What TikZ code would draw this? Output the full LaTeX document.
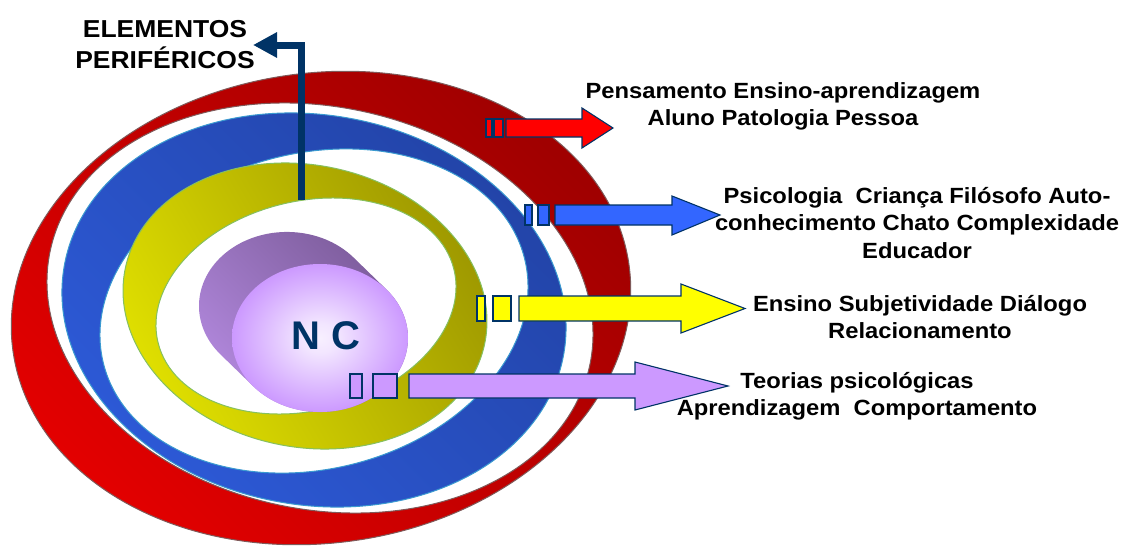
\documentclass[tikz,border=0pt]{standalone}
\usepackage{fontspec}
\setmainfont{Liberation Sans}[FakeStretch=1.08]
\newfontfamily\ncfont{Liberation Sans}
\usetikzlibrary{arrows.meta}
\definecolor{navy}{HTML}{003366}
\definecolor{ringredL}{HTML}{E40000}
\definecolor{ringredD}{HTML}{A00000}
\definecolor{ringredE}{HTML}{7F5A5A}
\definecolor{ringblueL}{HTML}{2D5AD8}
\definecolor{ringblueD}{HTML}{2243A6}
\definecolor{ringblueE}{HTML}{3A9AD0}
\definecolor{ringyelL}{HTML}{E2E200}
\definecolor{ringyelD}{HTML}{9C9600}
\definecolor{ringyelE}{HTML}{86C060}
\definecolor{cylL}{HTML}{B48AE0}
\definecolor{cylD}{HTML}{7A5A98}
\definecolor{ncedge}{HTML}{CC99FF}
\definecolor{arrred}{HTML}{FF0000}
\definecolor{arrblue}{HTML}{3366FF}
\definecolor{arryel}{HTML}{FFFF00}
\definecolor{arrpur}{HTML}{CC99FF}
\pgfdeclareradialshading{ncglow}{\pgfpoint{0bp}{0bp}}{color(0bp)=(white!85!ncedge); color(5bp)=(white!75!ncedge); color(17bp)=(white!30!ncedge); color(25bp)=(ncedge); color(50bp)=(ncedge)}
\tikzset{
  blk/.style={draw=navy, line width=1.1pt, line join=miter},
  lbl/.style={anchor=base, inner sep=0pt, font=\bfseries\fontsize{22}{27.5}\selectfont},
  navyarr/.style={draw=navy, line width=7pt, line join=miter, -{Triangle[length=24pt,width=24pt]}},
}
\begin{document}
\begin{tikzpicture}[x=1pt,y=-1pt]
\useasboundingbox (0,0) rectangle (1128,546);
% red ring
\shade[even odd rule, left color=ringredL, right color=ringredD, shading angle=135]
  (321,308) ellipse [x radius=311, y radius=235, rotate=8]
  (320,308) ellipse [x radius=275.8, y radius=201.2, rotate=-12];
\draw[ringredE, line width=1pt]
  (321,308) ellipse [x radius=311, y radius=235, rotate=8]
  (320,308) ellipse [x radius=275.8, y radius=201.2, rotate=-12];
% blue ring
\shade[even odd rule, left color=ringblueL, right color=ringblueD, shading angle=135]
  (314,310) ellipse [x radius=253.6, y radius=195, rotate=-10]
  (314,311) ellipse [x radius=217, y radius=158, rotate=14];
\draw[ringblueE, line width=1pt]
  (314,310) ellipse [x radius=253.6, y radius=195, rotate=-10]
  (314,311) ellipse [x radius=217, y radius=158, rotate=14];
% yellow ring
\shade[even odd rule, left color=ringyelL, right color=ringyelD, shading angle=120]
  (305,306) ellipse [x radius=183.6, y radius=140.9, rotate=-12]
  (306,306) ellipse [x radius=152.4, y radius=104.6, rotate=14];
\draw[ringyelE, line width=1pt]
  (305,306) ellipse [x radius=183.6, y radius=140.9, rotate=-12]
  (306,306) ellipse [x radius=152.4, y radius=104.6, rotate=14];
% navy arrow to label
\coordinate (pbase) at (301,200);
\coordinate (ptip) at (253,45);
\draw[navyarr] (pbase) |- (ptip);
\node[anchor=base, inner sep=0pt, font=\bfseries\fontsize{24.5}{32}\selectfont] (elem) at (165,37)
  {\begin{tabular}[t]{@{}c@{}}ELEMENTOS\\PERIFÉRICOS\end{tabular}};
% cylinder
\shade[top color=cylD, bottom color=cylL, shading angle=-45]
  (353.5,257.5) arc[start angle=-40.9, end angle=-220.9, x radius=88, y radius=74]
  -- (253.5,386.5) arc[start angle=139.1, end angle=-40.9, x radius=88, y radius=74]
  -- cycle;
\shade[shading=ncglow] (320,338) ellipse [x radius=88, y radius=74];
\node[font=\ncfont\bfseries\fontsize{40}{40}\selectfont, text=navy, inner sep=0pt] (nc) at (326,336) {N C};
% red arrow
\path[blk, fill=arrred] (486,119) rectangle (492,137);
\path[blk, fill=arrred] (494,119) rectangle (503,137);
\path[blk, fill=arrred] (506,119) -- (582,119) -- (582,108) -- (613,128) -- (582,148) -- (582,137) -- (506,137) -- cycle;
% blue arrow
\path[blk, fill=arrblue] (525,205) rectangle (532,225);
\path[blk, fill=arrblue] (538,205) rectangle (549,225);
\path[blk, fill=arrblue] (555,205) -- (672,205) -- (672,196) -- (720,215) -- (672,235) -- (672,225) -- (555,225) -- cycle;
% yellow arrow
\path[blk, fill=arryel] (477,296) rectangle (485,321);
\path[blk, fill=arryel] (493,296) rectangle (511,321);
\path[blk, fill=arryel] (519,296) -- (681,296) -- (681,284) -- (745,308.5) -- (681,333) -- (681,321) -- (519,321) -- cycle;
% purple arrow
\path[blk, fill=arrpur] (350,374) rectangle (362,398);
\path[blk, fill=arrpur] (373,374) rectangle (397,398);
\path[blk, fill=arrpur] (409,374) -- (635,374) -- (635,362) -- (728,386) -- (635,410) -- (635,398) -- (409,398) -- cycle;
% labels
\node[lbl] (t1) at (783,98) {\begin{tabular}[t]{@{}c@{}}Pensamento Ensino-aprendizagem\\Aluno Patologia Pessoa\end{tabular}};
\node[lbl] (t2) at (917,203) {\begin{tabular}[t]{@{}c@{}}Psicologia\hspace{0.3em} Criança Filósofo Auto-\\conhecimento Chato Complexidade\\Educador\end{tabular}};
\node[lbl] (t3) at (920,311) {\begin{tabular}[t]{@{}c@{}}Ensino Subjetividade Diálogo\\Relacionamento\end{tabular}};
\node[lbl] (t4) at (857,388) {\begin{tabular}[t]{@{}c@{}}Teorias psicológicas\\Aprendizagem\hspace{0.3em} Comportamento\end{tabular}};
\end{tikzpicture}
\end{document}
